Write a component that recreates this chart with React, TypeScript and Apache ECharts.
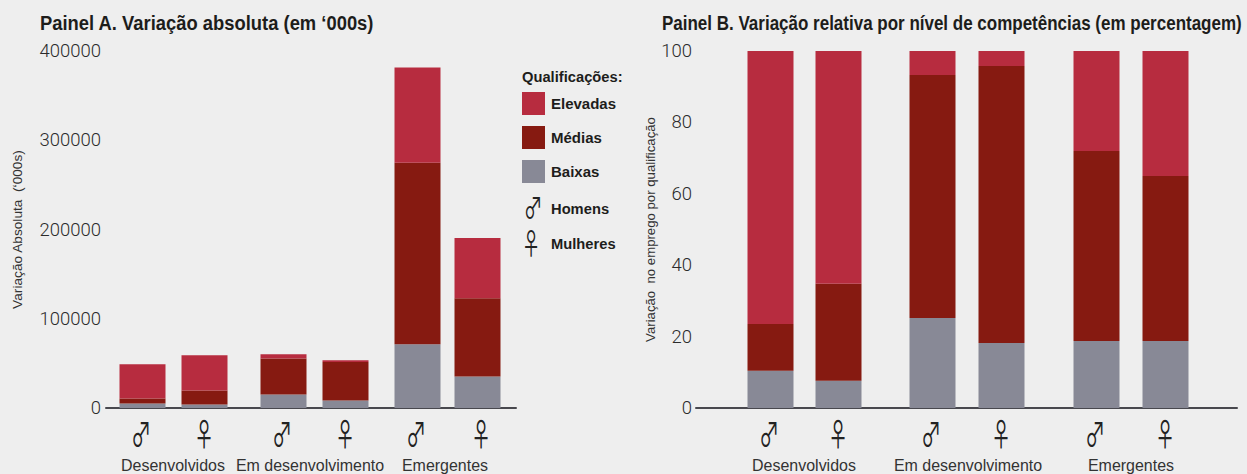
import React, { useEffect, useRef } from "react";
import * as echarts from "echarts";

const seriesNames = ["Baixas", "Médias", "Elevadas"];
const panelATitle = "Painel A. Variação absoluta (em ‘000s)";
const panelBTitle = "Painel B. Variação relativa por nível de competências (em percentagem)";
const panelAAxisName = "Variação Absoluta  (‘000s)";
const panelBAxisName = "Variação  no emprego por qualificação";
const groupNames = ["Desenvolvidos", "Em desenvolvimento", "Emergentes"];
const genders = ["♂", "♀", "♂", "♀", "♂", "♀"];

// Order of bars: Desenvolvidos H/M, Em desenvolvimento H/M, Emergentes H/M
const absBaixas = [5000, 3900, 15200, 8400, 71300, 35400];
const absMedias = [5700, 15800, 40400, 43100, 203400, 87600];
const absElevadas = [38200, 39300, 4500, 1900, 106700, 67400];

const relBaixas = [10.4, 7.6, 25.2, 18.2, 18.8, 18.8];
const relMedias = [13.1, 27.2, 68.1, 77.6, 53.2, 46.2];
const relElevadas = [76.5, 65.2, 6.7, 4.2, 28, 35];

const colors: Record<string, string> = { Baixas: "#888996", "Médias": "#861A11", Elevadas: "#B72C3F" };
const SANS = "'Liberation Sans', sans-serif";
const SYMBOL = "'Noto Sans CJK JP', 'DejaVu Sans', sans-serif";
const INK = "#1d1d1b";
const GREY = "#333333";

// Horizontal layout of each panel: the x axis has one fine slot per pixel
const layoutA = {
  left: 106,
  width: 410,
  slots: [36, 98, 177, 239, 311, 371],
  labelX: [173, 310, 445],
  symbolX: [141, 204, 282, 345, 416, 481],
};
const layoutB = {
  left: 696,
  width: 541,
  slots: [74, 142, 236, 305, 400, 469],
  labelX: [804, 968, 1131],
  symbolX: [769, 838, 931, 1001, 1095, 1165],
};

function panelSeries(gridIdx: number, slots: number[], vals: number[][], stack: string) {
  return seriesNames.map((name, i) => ({
    name,
    type: "bar",
    stack,
    xAxisIndex: gridIdx,
    yAxisIndex: gridIdx,
    barWidth: 46,
    itemStyle: { color: colors[name] },
    data: vals[i].map((v, k) => [slots[k], v]),
  }));
}

function xAxis(gridIdx: number, l: { width: number }) {
  return {
    type: "category",
    gridIndex: gridIdx,
    data: Array.from({ length: l.width }, (_, i) => String(i)),
    axisTick: { show: false },
    axisLine: { show: true, lineStyle: { color: "#48484e", width: 2 } },
    axisLabel: { show: false },
  };
}

function yAxis(gridIdx: number, max: number, interval: number, name: string, margin: number, nameGap: number, nameSize: number) {
  return {
    type: "value",
    gridIndex: gridIdx,
    min: 0,
    max,
    interval,
    name,
    nameLocation: "middle",
    nameGap,
    nameRotate: 90,
    nameTextStyle: { fontFamily: SANS, fontSize: nameSize, color: GREY },
    splitLine: { show: false },
    axisTick: { show: false },
    axisLine: { show: false },
    axisLabel: {
      margin,
      formatter: (v: number) => String(v),
      fontFamily: "'Roboto', sans-serif",
      fontWeight: 300,
      fontSize: 18.5,
      color: "#2b2b2b",
    },
  };
}

export default function App() {
  const ref = useRef<HTMLDivElement>(null);
  useEffect(() => {
    const chart = echarts.init(ref.current!, null, { renderer: "svg" });
    const boldText = (text: string, x: number, y: number, fontSize: number, scaleX: number) => ({
      type: "text",
      x,
      y,
      scaleX,
      style: { text, fontFamily: SANS, fontWeight: "bold", fontSize, fill: INK, textVerticalAlign: "middle" },
    });
    const groupLabel = (text: string, x: number) => ({
      type: "text",
      x,
      y: 465,
      scaleX: 0.94,
      style: { text, fontFamily: SANS, fontSize: 17, fill: GREY, textAlign: "center", textVerticalAlign: "middle" },
    });
    const symbol = (text: string, x: number, y: number, size: number) => ({
      type: "text",
      x,
      y,
      scaleX: 0.72,
      scaleY: 1.12,
      style: { text, fontFamily: SYMBOL, fontSize: size, fill: "#222", textAlign: "center", textVerticalAlign: "middle" },
    });
    chart.setOption({
      animation: false,
      backgroundColor: "#EEEEEE",
      grid: [
        { left: layoutA.left, width: layoutA.width, top: 51, height: 357 },
        { left: layoutB.left, width: layoutB.width, top: 51, height: 357 },
      ],
      xAxis: [xAxis(0, layoutA), xAxis(1, layoutB)],
      yAxis: [
        yAxis(0, 400000, 100000, panelAAxisName, 5, 82, 13.7),
        yAxis(1, 100, 20, panelBAxisName, 4, 39, 13.2),
      ],
      legend: {
        data: ["Elevadas", "Médias", "Baixas"],
        orient: "vertical",
        left: 522,
        top: 92,
        padding: 0,
        icon: "rect",
        itemWidth: 23,
        itemHeight: 23,
        itemGap: 11,
        selectedMode: false,
        textStyle: { fontFamily: SANS, fontWeight: "bold", fontSize: 15, color: INK, padding: [0, 0, 0, 1] },
      },
      series: [
        ...panelSeries(0, layoutA.slots, [absBaixas, absMedias, absElevadas], "a"),
        ...panelSeries(1, layoutB.slots, [relBaixas, relMedias, relElevadas], "b"),
      ],
      graphic: [
        boldText(panelATitle, 40, 23, 20.5, 0.897),
        boldText(panelBTitle, 662, 23, 20, 0.85),
        boldText("Qualificações:", 522, 76, 15.5, 0.95),
        boldText("Homens", 551, 208, 15.5, 0.95),
        boldText("Mulheres", 551, 243, 15.5, 0.95),
        ...layoutA.labelX.map((x, i) => groupLabel(groupNames[i], x)),
        ...layoutB.labelX.map((x, i) => groupLabel(groupNames[i], x)),
        ...layoutA.symbolX.map((x, i) => symbol(genders[i], x, 432, 28)),
        ...layoutB.symbolX.map((x, i) => symbol(genders[i], x, 432, 28)),
        symbol("♂", 533, 207, 26),
        symbol("♀", 531, 243, 26),
      ],
    });
    return () => chart.dispose();
  }, []);
  return <div ref={ref} style={{ position: "absolute", left: 0, top: 0, width: 1247, height: 474 }} />;
}
